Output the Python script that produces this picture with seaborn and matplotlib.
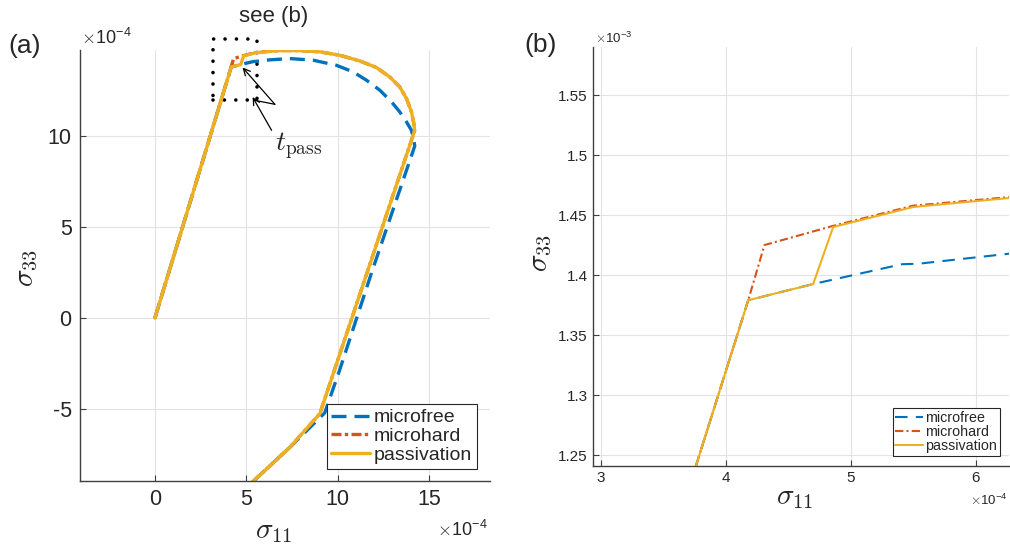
import pandas as pd
import matplotlib
matplotlib.use('Agg')
from matplotlib import pyplot as plt
from matplotlib.patches import Rectangle
import seaborn as sns

# stress path, both axes in units of 1e-4
free_s11 = [0, 4.18, 4.70, 5.41, 5.55, 6.27, 7.39, 8.67, 9.94, 10.85, 11.59, 12.32, 12.96, 13.41,
            13.78, 14.05, 14.18, 14.23, 11.9, 10.1, 9.3, 7.39, 5.34]
free_s33 = [0, 13.79, 13.925, 14.09, 14.095, 14.178, 14.25, 14.16, 13.88, 13.52, 13.06, 12.51, 11.87, 11.32,
            10.77, 10.31, 9.76, 9.45, 2.6, -2.9, -5.2, -7.09, -9.0]

hard_s11 = [0, 4.18, 4.31, 4.86, 5.50, 6.27, 6.84, 7.94, 9.03, 10.13, 11.22, 12.13, 12.86, 13.41, 13.78,
            14.05, 14.18, 14.22, 9.03, 7.39, 5.34]
hard_s33 = [0, 13.79, 14.25, 14.41, 14.578, 14.65, 14.69, 14.69, 14.62, 14.43, 14.12, 13.76, 13.24, 12.69, 12.05,
            11.32, 10.68, 10.28, -5.25, -7.09, -9.0]

pass_s11 = [0, 4.18, 4.70, 4.86, 5.50, 6.27, 6.84, 7.94, 9.03, 10.13, 11.22, 12.13, 12.86, 13.41, 13.78,
            14.05, 14.18, 14.22, 9.03, 7.39, 5.34]
pass_s33 = [0, 13.79, 13.925, 14.40, 14.567, 14.642, 14.69, 14.69, 14.62, 14.43, 14.12, 13.76, 13.24, 12.69, 12.05,
            11.32, 10.68, 10.28, -5.25, -7.09, -9.0]

names = ['microfree', 'microhard', 'passivation']
colors = ['#0072BD', '#D95319', '#EDB120']

df = pd.concat([
    pd.DataFrame({'series': 'microfree', 's11': free_s11, 's33': free_s33}),
    pd.DataFrame({'series': 'microhard', 's11': hard_s11, 's33': hard_s33}),
    pd.DataFrame({'series': 'passivation', 's11': pass_s11, 's33': pass_s33}),
], ignore_index=True)
df['s33_b'] = df['s33'] / 10  # panel (b) y axis is in 1e-3

sns.set_theme(style='ticks')
plt.rcParams['font.family'] = ['Liberation Sans', 'DejaVu Sans']
plt.rcParams['mathtext.fontset'] = 'cm'
plt.rcParams['axes.unicode_minus'] = False
pal = dict(zip(names, colors))

W, H = 1010, 547
fig = plt.figure(figsize=(W / 100, H / 100), dpi=100)

def box(l, t, r, b):
    return [l / W, 1 - b / H, (r - l) / W, (b - t) / H]

def ftxt(x, y, s, **kw):
    fig.text(x / W, 1 - y / H, s, **kw)

ax1 = fig.add_axes(box(80, 50, 490, 481))
ax2 = fig.add_axes(box(593.3, 46.7, 1009.3, 465.7))

# (a) full path
sns.lineplot(data=df, x='s11', y='s33', hue='series', style='series', palette=pal,
             dashes={'microfree': (4.5, 2.4), 'microhard': (3, 1, 1, 1), 'passivation': ''},
             sort=False, estimator=None, lw=2.4, ax=ax1, legend=False)
ax1.set_xlim(-4.1, 18.35)
ax1.set_ylim(-8.94, 14.72)
ax1.set_xticks([0, 5, 10, 15])
ax1.set_yticks([-5, 0, 5, 10])
ax1.tick_params(labelsize=15.5, direction='in', length=4, width=0.8, color='#404040', pad=6)
for ln in ax1.lines:
    ln.set_solid_joinstyle('round')

# dotted box marking the zoom region
rect = Rectangle((3.16, 11.96), 2.44, 3.34, fill=False, edgecolor='black', lw=2.6,
                 linestyle=(0, (0.01, 3.15)), clip_on=False)
rect.set_capstyle('round')
ax1.add_patch(rect)

ax1.annotate('', xy=(4.8, 13.76), xytext=(6.57, 11.74),
             arrowprops=dict(arrowstyle='->', color='black', lw=0.9, shrinkA=0, shrinkB=0))
ax1.annotate('', xy=(5.35, 12.14), xytext=(6.39, 10.31),
             arrowprops=dict(arrowstyle='->', color='black', lw=0.9, shrinkA=0, shrinkB=0))
ax1.plot([5.45, 6.57], [11.96, 11.74], color='black', lw=0.9)

# (b) zoom near t_pass
sns.lineplot(data=df, x='s11', y='s33_b', hue='series', style='series', palette=pal,
             dashes={'microfree': (6, 4), 'microhard': (4, 1.5, 1, 1.5), 'passivation': ''},
             sort=False, estimator=None, lw=1.5, ax=ax2, legend=False)
ax2.set_xlim(2.94, 6.27)
ax2.set_ylim(1.2411, 1.5903)
ax2.set_xticks([3, 4, 5, 6])
ax2.set_yticks([1.25, 1.3, 1.35, 1.4, 1.45, 1.5, 1.55])
ax2.set_yticklabels(['1.25', '1.3', '1.35', '1.4', '1.45', '1.5', '1.55'])
ax2.tick_params(labelsize=11, direction='in', length=4, width=0.8, color='#404040', pad=4)

for ax in (ax1, ax2):
    ax.grid(True, color='#e3e3e3', lw=0.8)
    ax.set_axisbelow(True)
    ax.set_xlabel('')
    ax.set_ylabel('')
    for side in ('top', 'right'):
        ax.spines[side].set_visible(False)
    for side in ('left', 'bottom'):
        ax.spines[side].set_color('#404040')
        ax.spines[side].set_linewidth(1.0)
    ax.tick_params(labelcolor='#262626')

ax1.legend(ax1.lines[:3], names, loc='lower right', bbox_to_anchor=(0.969, 0.029),
           borderaxespad=0, fontsize=14, handlelength=2.0, handletextpad=0.2,
           labelspacing=0.05, borderpad=0.25, fancybox=False, framealpha=1,
           edgecolor='#262626')
ax2.legend(ax2.lines[:3], names, loc='lower right', bbox_to_anchor=(0.978, 0.023),
           borderaxespad=0, fontsize=10.3, handlelength=1.9, handletextpad=0.2,
           labelspacing=0.0, borderpad=0.2, fancybox=False, framealpha=1,
           edgecolor='#262626')
for leg in (ax1.get_legend(), ax2.get_legend()):
    leg.get_frame().set_linewidth(0.8)

# labels and annotations
ftxt(25, 46.5, '(a)', fontsize=19, ha='center', va='center')
ftxt(81, 44, r'$\times$10$^{\mathregular{-4}}$', fontsize=13, ha='left', va='baseline', color='#262626')
ftxt(274, 16.5, 'see (b)', fontsize=16, ha='center', va='center')
ftxt(298.5, 146, r'$t_{\rm pass}$', fontsize=20, ha='center', va='center')
ftxt(274, 531, r'$\sigma_{11}$', fontsize=21, ha='center', va='center')
ftxt(488, 536, r'$\times$10$^{\mathregular{-4}}$', fontsize=13, ha='right', va='baseline', color='#262626')
ftxt(26, 268, r'$\sigma_{33}$', fontsize=21, ha='center', va='center', rotation=90)

ftxt(541, 45, '(b)', fontsize=19, ha='center', va='center')
ftxt(595, 43, r'$\times$10$^{\mathregular{-3}}$', fontsize=9.5, ha='left', va='baseline', color='#262626')
ftxt(795, 497, r'$\sigma_{11}$', fontsize=21, ha='center', va='center')
ftxt(1008, 505, r'$\times$10$^{\mathregular{-4}}$', fontsize=9.5, ha='right', va='baseline', color='#262626')
ftxt(540, 253, r'$\sigma_{33}$', fontsize=21, ha='center', va='center', rotation=90)

fig.savefig('out.png', dpi=100)
